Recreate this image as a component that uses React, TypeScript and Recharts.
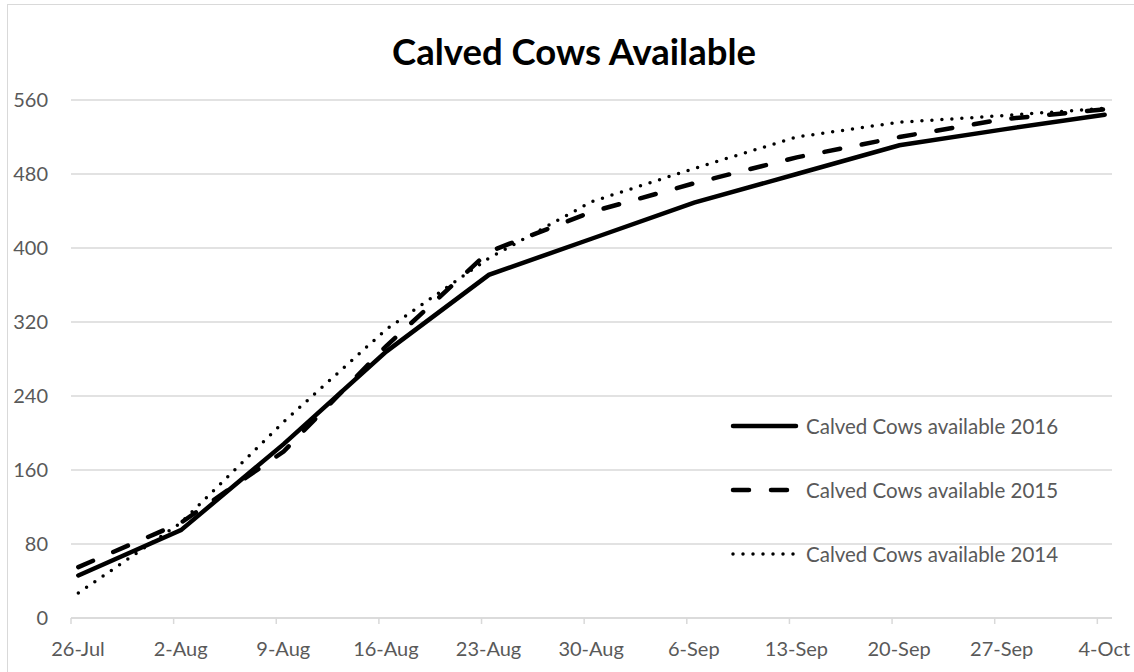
import { CartesianGrid, Line, LineChart, XAxis, YAxis } from 'recharts';

const dates = ['26-Jul', '2-Aug', '9-Aug', '16-Aug', '23-Aug', '30-Aug', '6-Sep', '13-Sep', '20-Sep', '27-Sep', '4-Oct'];
const cows2016 = [46, 95, 188, 288, 371, 410, 449, 480, 511, 528, 544];
const cows2015 = [55, 103, 180, 294, 396, 439, 470, 498, 520, 539, 550];
const cows2014 = [27, 103, 212, 312, 389, 450, 486, 520, 536, 543, 551];
const yTicks = [0, 80, 160, 240, 320, 400, 480, 560];

// date axis: each week is 7 days, points sit in the middle of their day
const data = dates.map((d, i) => ({
	day: i * 7 + 0.5,
	label: d,
	c2016: cows2016[i],
	c2015: cows2015[i],
	c2014: cows2014[i],
}));
const xTicks = dates.map((_, i) => i * 7);

const FONT = 'Lato, "Open Sans", sans-serif';
const GREY = '#595959';

const series = [
	{ key: 'c2016', name: 'Calved Cows available 2016', dash: undefined, width: 4.5 },
	{ key: 'c2015', name: 'Calved Cows available 2015', dash: '16 22', width: 4.5 },
	{ key: 'c2014', name: 'Calved Cows available 2014', dash: '0 10', width: 3.5 },
];

function LegendBox() {
	return (
		<div style={{ position: 'absolute', left: 728, top: 394, fontFamily: FONT, fontSize: 20.5, color: GREY }}>
			{series.map((s) => (
				<div key={s.key} style={{ display: 'flex', alignItems: 'center', height: 64 }}>
					<svg width={74} height={10} style={{ marginRight: 4 }}>
						<line
							x1={5}
							y1={5}
							x2={68}
							y2={5}
							stroke="#000"
							strokeWidth={s.width}
							strokeLinecap="round"
							strokeDasharray={s.dash}
						/>
					</svg>
					<span>{s.name}</span>
				</div>
			))}
		</div>
	);
}

export default function App() {
	return (
		<div style={{ position: 'absolute', left: 0, top: 0, width: 1134, height: 672, background: '#fff', overflow: 'hidden' }}>
			<div
				style={{
					position: 'absolute',
					left: 7,
					top: 4,
					width: 1200,
					height: 800,
					border: '1.5px solid #d9d9d9',
				}}
			/>
			<div
				style={{
					position: 'absolute',
					left: 0,
					width: 1148,
					top: 33,
					textAlign: 'center',
					fontFamily: FONT,
					fontWeight: 'bold',
					fontSize: 36.5,
					lineHeight: '36px',
					color: '#000',
				}}
			>
				Calved Cows Available
			</div>
			<LineChart width={1134} height={672} data={data} margin={{ top: 100, right: 22, bottom: 24, left: 0 }}>
				<CartesianGrid vertical={false} stroke="#d9d9d9" strokeWidth={1.5} />
				<XAxis
					type="number"
					dataKey="day"
					domain={[0, 71]}
					ticks={xTicks}
					tickFormatter={(v) => dates[Math.round(v / 7)]}
					axisLine={{ stroke: '#d9d9d9', strokeWidth: 1.5 }}
					tickLine={{ stroke: '#d9d9d9', strokeWidth: 1.5 }}
					tickSize={6}
					tickMargin={18}
					height={30}
					tick={{ fill: GREY, fontSize: 20, fontFamily: FONT, dx: 7 }}
					interval={0}
				/>
				<YAxis
					domain={[0, 560]}
					ticks={yTicks}
					axisLine={false}
					tickLine={false}
					tickSize={0}
					tickMargin={23}
					width={71}
					tick={{ fill: GREY, fontSize: 20, fontFamily: FONT }}
				/>
				{series.map((s) => (
					<Line
						key={s.key}
						type="linear"
						dataKey={s.key}
						name={s.name}
						stroke="#000"
						strokeWidth={s.width}
						strokeDasharray={s.dash}
						strokeLinecap="round"
						dot={false}
						activeDot={false}
						isAnimationActive={false}
					/>
				))}
			</LineChart>
			<LegendBox />
		</div>
	);
}
